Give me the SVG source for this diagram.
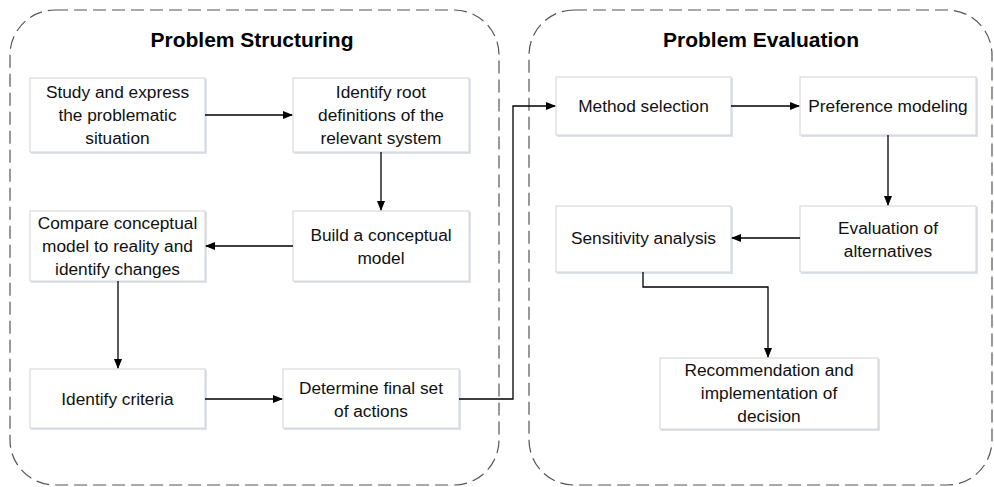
<svg xmlns="http://www.w3.org/2000/svg" width="994" height="487" viewBox="0 0 994 487">
<style>
.cont{fill:none;stroke:#555;stroke-width:1.2;stroke-dasharray:13 6}
.title{font-family:"Liberation Sans",Arial,sans-serif;font-weight:bold;font-size:21px;fill:#000;text-anchor:middle}
.box{fill:#fff;stroke:#d4d4d4;stroke-width:1}
.sh{fill:#dde3ea}
.t{font-family:"Liberation Sans",Arial,sans-serif;font-size:17.3px;fill:#111;text-anchor:middle}
.c{fill:none;stroke:#000;stroke-width:1.3}
</style>
<defs>
<marker id="ah" markerWidth="10" markerHeight="8" refX="9" refY="4" orient="auto" markerUnits="userSpaceOnUse">
<path d="M0,0 L10,4 L0,8 Z" fill="#000"/>
</marker>
</defs>
<g id="container-structuring">
<rect class="cont" x="10" y="10" width="489" height="475" rx="45" ry="45"/>
<text class="title" x="252" y="47">Problem Structuring</text>
</g>
<g id="container-evaluation">
<rect class="cont" x="529" y="10" width="463" height="475" rx="45" ry="45"/>
<text class="title" x="761" y="47">Problem Evaluation</text>
</g>
<g id="n1"><rect class="sh" x="31" y="79" width="176" height="75"/><rect class="box" x="30" y="78" width="175" height="74"/>
<text class="t" x="117.5" y="98">Study and express</text><text class="t" x="117.5" y="121">the problematic</text><text class="t" x="117.5" y="144">situation</text></g>
<g id="n2"><rect class="sh" x="294" y="79" width="177" height="75"/><rect class="box" x="293" y="78" width="176" height="74"/>
<text class="t" x="381" y="98">Identify root</text><text class="t" x="381" y="121">definitions of the</text><text class="t" x="381" y="144">relevant system</text></g>
<g id="n3"><rect class="sh" x="294" y="212" width="177" height="71"/><rect class="box" x="293" y="211" width="176" height="70"/>
<text class="t" x="381" y="241">Build a conceptual</text><text class="t" x="381" y="264">model</text></g>
<g id="n4"><rect class="sh" x="31" y="212" width="176" height="71"/><rect class="box" x="30" y="211" width="175" height="70"/>
<text class="t" x="117.5" y="229">Compare conceptual</text><text class="t" x="117.5" y="252">model to reality and</text><text class="t" x="117.5" y="275">identify changes</text></g>
<g id="n5"><rect class="sh" x="31" y="370" width="176" height="60"/><rect class="box" x="30" y="369" width="175" height="59"/>
<text class="t" x="117.5" y="405">Identify criteria</text></g>
<g id="n6"><rect class="sh" x="284" y="370" width="177" height="60"/><rect class="box" x="283" y="369" width="176" height="59"/>
<text class="t" x="371" y="394">Determine final set</text><text class="t" x="371" y="417">of actions</text></g>
<g id="n7"><rect class="sh" x="557" y="78" width="176" height="59"/><rect class="box" x="556" y="77" width="175" height="58"/>
<text class="t" x="643.5" y="112">Method selection</text></g>
<g id="n8"><rect class="sh" x="801" y="78" width="177" height="59"/><rect class="box" x="800" y="77" width="176" height="58"/>
<text class="t" x="888" y="112">Preference modeling</text></g>
<g id="n9"><rect class="sh" x="801" y="207" width="177" height="67"/><rect class="box" x="800" y="206" width="176" height="66"/>
<text class="t" x="888" y="234">Evaluation of</text><text class="t" x="888" y="257">alternatives</text></g>
<g id="n10"><rect class="sh" x="557" y="207" width="176" height="67"/><rect class="box" x="556" y="206" width="175" height="66"/>
<text class="t" x="643.5" y="244">Sensitivity analysis</text></g>
<g id="n11"><rect class="sh" x="661" y="359" width="219" height="72"/><rect class="box" x="660" y="358" width="218" height="71"/>
<text class="t" x="769" y="376">Recommendation and</text><text class="t" x="769" y="399">implementation of</text><text class="t" x="769" y="422">decision</text></g>
<g id="connectors">
<path class="c" d="M205,115 H292" marker-end="url(#ah)"/>
<path class="c" d="M381,152 V210" marker-end="url(#ah)"/>
<path class="c" d="M293,246 H206" marker-end="url(#ah)"/>
<path class="c" d="M118,281 V368" marker-end="url(#ah)"/>
<path class="c" d="M205,399 H282" marker-end="url(#ah)"/>
<path class="c" d="M459,399 H513 V106 H555" marker-end="url(#ah)"/>
<path class="c" d="M731,106 H799" marker-end="url(#ah)"/>
<path class="c" d="M888,135 V205" marker-end="url(#ah)"/>
<path class="c" d="M800,238 H732" marker-end="url(#ah)"/>
<path class="c" d="M643,272 V287 H768 V357" marker-end="url(#ah)"/>
</g>
</svg>
